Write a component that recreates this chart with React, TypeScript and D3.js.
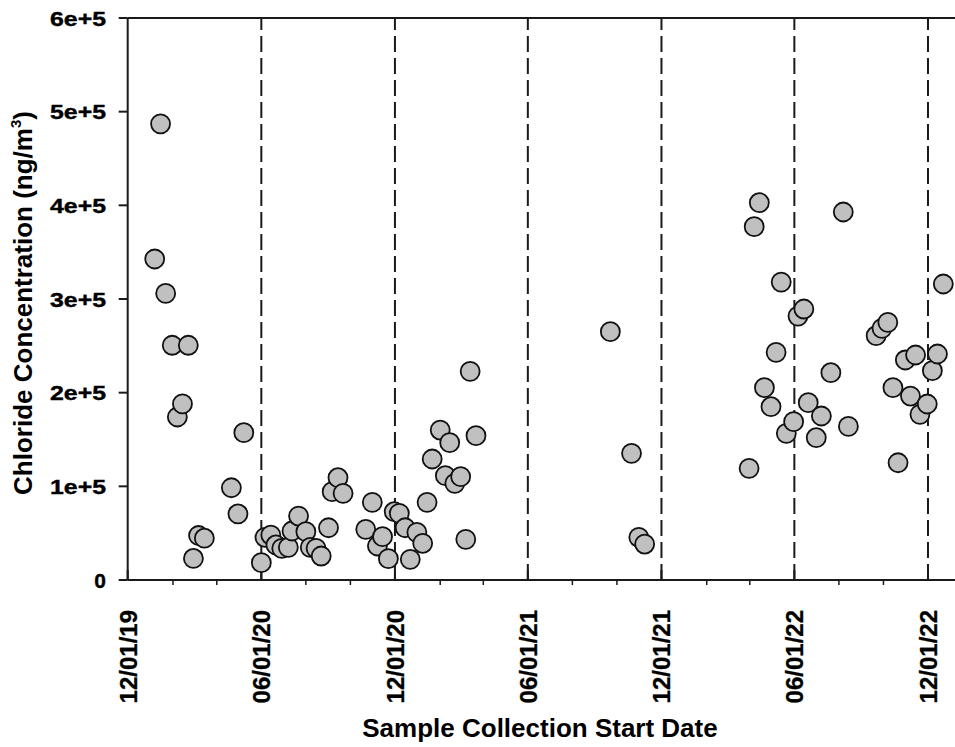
import React from 'react';
import * as d3 from 'd3';

const sampleDates = [
  '2020-01-07', '2020-01-15', '2020-01-22', '2020-01-31', '2020-02-07', '2020-02-14', '2020-02-22',
  '2020-02-29', '2020-03-07', '2020-03-15', '2020-04-21', '2020-04-30', '2020-05-08', '2020-06-01',
  '2020-06-06', '2020-06-14', '2020-06-21', '2020-06-29', '2020-07-08', '2020-07-13', '2020-07-22',
  '2020-08-01', '2020-08-07', '2020-08-15', '2020-08-22', '2020-09-01', '2020-09-06', '2020-09-14',
  '2020-09-21', '2020-10-22', '2020-10-31', '2020-11-07', '2020-11-14', '2020-11-22', '2020-11-30',
  '2020-12-07', '2020-12-15', '2020-12-22', '2020-12-31', '2021-01-08', '2021-01-14', '2021-01-21',
  '2021-02-01', '2021-02-08', '2021-02-14', '2021-02-21', '2021-03-01', '2021-03-08', '2021-03-14',
  '2021-03-22',
  '2021-09-22', '2021-10-21', '2021-10-31', '2021-11-08',
  '2022-03-31', '2022-04-07', '2022-04-14', '2022-04-21', '2022-04-30', '2022-05-07', '2022-05-14',
  '2022-05-21', '2022-05-31', '2022-06-06', '2022-06-14', '2022-06-20', '2022-07-01', '2022-07-08',
  '2022-07-21', '2022-08-07', '2022-08-14', '2022-09-21', '2022-09-29', '2022-10-07', '2022-10-14',
  '2022-10-21', '2022-10-31', '2022-11-07', '2022-11-14', '2022-11-20', '2022-11-30', '2022-12-07',
  '2022-12-14', '2022-12-22',
];

const chlorideValues = [
  342700, 487000, 306000, 250600, 174000, 188000, 250600,
  23000, 47500, 44600, 98500, 70500, 157300, 18500,
  45600, 48000, 37400, 33800, 34900, 52300, 68300,
  51600, 34900, 33800, 25600, 55800, 94300, 109200,
  92500, 54100, 82900, 36300, 46300, 22800, 72900,
  71200, 55800, 22100, 50900, 39200, 82900, 129200,
  160100, 111400, 146600, 103200, 110300, 43400, 222800,
  154100,
  265100, 135200, 45600, 38400,
  119200, 377200, 402800, 205300, 185000, 243100, 318100,
  156600, 169000, 281800, 289300, 189300, 151900, 175100,
  221300, 392900, 164000, 260800, 268700, 275100, 205300,
  125200, 234900, 196400, 240200, 176900, 187900, 223500,
  241300, 316000,
];

const majorTickDates = ['2019-12-01', '2020-06-01', '2020-12-01', '2021-06-01', '2021-12-01', '2022-06-01', '2022-12-01'];
const yTickValues = [0, 100000, 200000, 300000, 400000, 500000, 600000];

const FONT = 'Arial, "Liberation Sans", sans-serif';

export default function App() {
  const W = 955;
  const H = 747;
  const left = 127.7;
  const right = 955;
  const top = 18;
  const bottom = 580;
  const parse = d3.timeParse('%Y-%m-%d');
  const start = parse('2019-12-01') as Date;
  const end = parse('2023-01-07') as Date;
  const x = d3.scaleTime().domain([start, end]).range([left, right]);
  const y = d3.scaleLinear().domain([0, 600000]).range([bottom, top]);
  const fmt = d3.timeFormat('%m/%d/%y');
  const majors = majorTickDates.map((d) => parse(d) as Date);
  const minors = d3
    .timeMonth.range(start, end)
    .filter((d) => d.getMonth() % 2 === 1 && d.getMonth() !== 5 && d.getMonth() !== 11);
  const points = sampleDates.map((d, i) => ({ date: parse(d) as Date, value: chlorideValues[i] }));
  const yLabel = (v: number) => (v === 0 ? '0' : `${v / 100000}e+5`);

  return (
    <svg width={W} height={H} style={{ position: 'absolute', left: 0, top: 0, background: '#fff' }}>
      <rect x={0} y={0} width={W} height={H} fill="#fff" />
      {majors.slice(1).map((d, i) => (
        <line
          key={'dash' + i}
          x1={x(d)}
          x2={x(d)}
          y1={bottom}
          y2={top}
          stroke="#1a1a1a"
          strokeWidth={2}
          strokeDasharray="16,6"
        />
      ))}
      {majors.map((d, i) => (
        <line key={'mj' + i} x1={x(d)} x2={x(d)} y1={bottom} y2={bottom - 10} stroke="#1a1a1a" strokeWidth={2} />
      ))}
      {minors.map((d, i) => (
        <line key={'mn' + i} x1={x(d)} x2={x(d)} y1={bottom} y2={bottom + 5} stroke="#1a1a1a" strokeWidth={1.5} />
      ))}
      <line x1={left} x2={right} y1={top} y2={top} stroke="#1a1a1a" strokeWidth={2} />
      <line x1={left} x2={left} y1={top} y2={bottom} stroke="#1a1a1a" strokeWidth={2} />
      <line x1={left} x2={right} y1={bottom} y2={bottom} stroke="#1a1a1a" strokeWidth={2} />
      {yTickValues.map((v) => (
        <g key={'yt' + v}>
          <line x1={left - 9} x2={left} y1={y(v)} y2={y(v)} stroke="#1a1a1a" strokeWidth={2} />
          <text
            x={106}
            y={y(v)}
            dy="0.36em"
            textAnchor="end"
            fontFamily={FONT}
            fontWeight="bold"
            fontSize={21}
            fill="#000"
            stroke="#000"
            strokeWidth={0.4}
            {...(v === 0 ? {} : { textLength: 56, lengthAdjust: 'spacingAndGlyphs' })}
          >
            {yLabel(v)}
          </text>
        </g>
      ))}
      {majors.map((d, i) => (
        <text
          key={'xl' + i}
          transform={`translate(${x(d) + 9},${610}) rotate(-90)`}
          textAnchor="end"
          fontFamily={FONT}
          fontWeight="bold"
          fontSize={24}
          fill="#000"
          stroke="#000"
          strokeWidth={0.3}
        >
          {fmt(d)}
        </text>
      ))}
      {points.map((p, i) => (
        <circle key={'pt' + i} cx={x(p.date)} cy={y(p.value)} r={9.5} fill="#c0c0c0" stroke="#111" strokeWidth={1.8} />
      ))}
      <text x={540} y={737} textAnchor="middle" fontFamily={FONT} fontWeight="bold" fontSize={26} fill="#000">
        Sample Collection Start Date
      </text>
      <text
        transform={`translate(31.5,303) rotate(-90)`}
        textAnchor="middle"
        fontFamily={FONT}
        fontWeight="bold"
        fontSize={26}
        fill="#000"
      >
        Chloride Concentration (ng/m
        <tspan fontSize={15} dy={-11}>3</tspan>
        <tspan dy={11}>)</tspan>
      </text>
    </svg>
  );
}
